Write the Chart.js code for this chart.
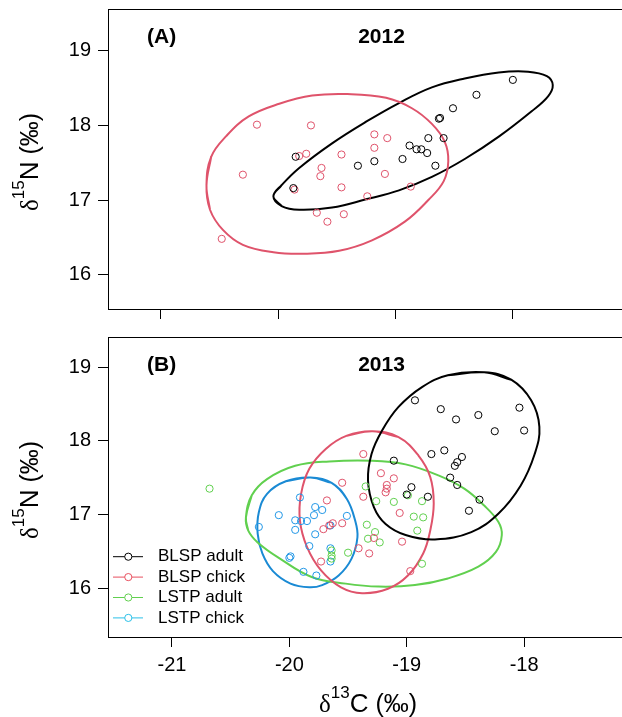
<!DOCTYPE html>
<html>
<head>
<meta charset="utf-8">
<script src="https://cdn.jsdelivr.net/npm/chart.js@4.4.0/dist/chart.umd.min.js"></script>
<style>
  html, body { margin: 0; padding: 0; background: #fff; overflow: hidden; width: 622px; height: 717px; }
  .panel { position: absolute; left: 0; }
  #wrapA { top: 0; }
  #wrapB { top: 330px; }
</style>
</head>
<body>
<div class="panel" id="wrapA"><canvas id="chartA" width="660" height="330"></canvas></div>
<div class="panel" id="wrapB"><canvas id="chartB" width="660" height="387"></canvas></div>
<script>
// axis ticks
const xTicks = [-21, -20, -19, -18];
const yTicks = [16, 17, 18, 19];

const groupLabels = ['BLSP adult', 'BLSP chick', 'LSTP adult', 'LSTP chick'];
const groupColors = ['#000000', '#DF536B', '#61D04F', '#2297E6'];
const legendColors = ['#000000', '#E8505F', '#61D04F', '#2BC0E8'];

// 2012 samples
const blspAdult2012X = [-19.85, -19.87, -19.32, -19.18, -18.94, -18.88, -18.82, -18.78, -18.73, -18.72, -18.66, -18.59, -18.63, -18.62, -18.51, -18.31, -18.00];
const blspAdult2012Y = [17.58, 17.16, 17.46, 17.52, 17.55, 17.73, 17.68, 17.68, 17.63, 17.83, 17.46, 17.83, 18.09, 18.10, 18.23, 18.41, 18.61];
const blspChick2012X = [-20.18, -19.72, -20.30, -20.48, -19.82, -19.76, -19.86, -19.63, -19.64, -19.46, -19.46, -19.67, -19.58, -19.44, -19.18, -19.18, -19.07, -19.09, -19.24, -18.87];
const blspChick2012Y = [18.01, 18.00, 17.34, 16.48, 17.59, 17.62, 17.14, 17.43, 17.32, 17.61, 17.17, 16.83, 16.71, 16.81, 17.88, 17.70, 17.83, 17.35, 17.05, 17.18];

// 2012 ellipse outlines
const ellAdult2012X = [-20.04, -19.97, -19.82, -19.54, -19.25, -18.97, -18.69, -18.41, -18.12, -17.84, -17.70, -17.66, -17.71, -17.87, -18.12, -18.41, -18.69, -18.97, -19.25, -19.54, -19.82, -19.97];
const ellAdult2012Y = [17.05, 16.92, 16.87, 16.90, 17.01, 17.13, 17.31, 17.55, 17.85, 18.19, 18.39, 18.54, 18.66, 18.72, 18.71, 18.63, 18.51, 18.30, 18.05, 17.76, 17.43, 17.20];
const ellChick2012X = [-20.61, -20.58, -20.47, -20.30, -20.04, -19.78, -19.48, -19.20, -18.92, -18.72, -18.59, -18.55, -18.58, -18.69, -18.86, -19.08, -19.41, -19.71, -19.99, -20.25, -20.44, -20.57];
const ellChick2012Y = [17.20, 16.87, 16.60, 16.40, 16.30, 16.28, 16.32, 16.46, 16.71, 17.00, 17.25, 17.52, 17.78, 18.02, 18.23, 18.37, 18.42, 18.40, 18.29, 18.12, 17.86, 17.58];

// 2013 samples
const blspAdult2013X = [-18.93, -18.71, -18.58, -18.39, -18.04, -18.25, -18.00, -18.79, -18.68, -18.53, -18.57, -18.59, -19.11, -18.63, -18.57, -18.96, -19.00, -18.82, -18.38, -18.47];
const blspAdult2013Y = [18.55, 18.43, 18.29, 18.35, 18.45, 18.13, 18.14, 17.82, 17.87, 17.78, 17.71, 17.66, 17.73, 17.50, 17.40, 17.37, 17.27, 17.24, 17.20, 17.05];
const blspChick2013X = [-19.37, -19.22, -19.11, -19.17, -19.17, -19.18, -19.55, -19.37, -19.68, -19.06, -19.55, -19.63, -19.66, -19.71, -19.28, -19.04, -19.41, -19.32, -19.73, -18.97];
const blspChick2013Y = [17.82, 17.56, 17.49, 17.40, 17.35, 17.30, 17.43, 17.24, 17.19, 17.02, 16.88, 16.88, 16.85, 16.80, 16.68, 16.63, 16.54, 16.47, 16.36, 16.23];
const lstpAdult2013X = [-20.68, -19.35, -19.26, -19.11, -18.99, -18.87, -18.94, -18.86, -18.91, -19.34, -19.27, -19.33, -19.23, -19.50, -18.87, -19.64, -19.64, -19.64];
const lstpAdult2013Y = [17.35, 17.38, 17.18, 17.17, 17.26, 17.18, 16.97, 16.96, 16.78, 16.86, 16.76, 16.67, 16.62, 16.48, 16.33, 16.51, 16.44, 16.40];
const lstpChick2013X = [-19.91, -20.09, -20.26, -19.95, -19.90, -19.85, -19.95, -19.78, -19.72, -19.79, -19.51, -19.65, -19.78, -19.83, -19.65, -19.65, -19.99, -20.00, -19.88, -19.77];
const lstpChick2013Y = [17.23, 16.99, 16.83, 16.92, 16.91, 16.91, 16.79, 17.10, 17.06, 16.99, 16.98, 16.85, 16.73, 16.57, 16.54, 16.36, 16.43, 16.41, 16.22, 16.17];

// 2013 ellipse outlines
const ellBlspAdult2013X = [-18.34, -18.11, -17.94, -17.87, -17.91, -18.03, -18.22, -18.45, -18.76, -19.01, -19.18, -19.28, -19.33, -19.30, -19.21, -19.07, -18.87, -18.65];
const ellBlspAdult2013Y = [18.93, 18.83, 18.55, 18.19, 17.82, 17.39, 17.01, 16.76, 16.66, 16.72, 16.87, 17.10, 17.46, 17.82, 18.14, 18.46, 18.73, 18.89];
const ellBlspChick2013X = [-19.29, -19.07, -18.90, -18.80, -18.77, -18.80, -18.86, -18.99, -19.16, -19.38, -19.56, -19.73, -19.85, -19.91, -19.90, -19.83, -19.69, -19.51];
const ellBlspChick2013Y = [18.13, 18.05, 17.80, 17.51, 17.15, 16.78, 16.47, 16.17, 15.99, 15.93, 16.01, 16.24, 16.56, 16.92, 17.28, 17.62, 17.89, 18.07];
const ellLstpAdult2013X = [-20.37, -20.32, -20.19, -19.95, -19.66, -19.30, -19.01, -18.73, -18.51, -18.34, -18.22, -18.19, -18.24, -18.39, -18.65, -18.93, -19.24, -19.52, -19.81, -20.09, -20.27, -20.35];
const ellLstpAdult2013Y = [16.96, 17.26, 17.48, 17.66, 17.72, 17.73, 17.68, 17.53, 17.35, 17.12, 16.90, 16.72, 16.49, 16.29, 16.13, 16.04, 16.02, 16.06, 16.15, 16.41, 16.62, 16.78];
const ellLstpChick2013X = [-19.82, -19.64, -19.51, -19.44, -19.42, -19.47, -19.58, -19.72, -19.83, -19.99, -20.14, -20.23, -20.27, -20.26, -20.19, -20.03];
const ellLstpChick2013Y = [17.50, 17.43, 17.21, 16.92, 16.69, 16.40, 16.17, 16.04, 16.01, 16.06, 16.23, 16.47, 16.74, 17.03, 17.28, 17.45];

function toPoints(xs, ys) {
  return xs.map((x, i) => ({x: x, y: ys[i]}));
}

// closed outline: wrap one point on each side so the spline joins smoothly
function toLoop(xs, ys) {
  const p = toPoints(xs, ys);
  return [p[p.length - 1], ...p, p[0], p[1]];
}

function pointSet(label, xs, ys, color) {
  return {
    label: label,
    data: toPoints(xs, ys),
    showLine: false,
    pointStyle: 'circle',
    pointRadius: 3.6,
    pointBorderWidth: 1,
    borderColor: color,
    backgroundColor: 'rgba(0,0,0,0)',
  };
}

function ellipseSet(xs, ys, color) {
  return {
    data: toLoop(xs, ys),
    showLine: true,
    pointRadius: 0,
    borderWidth: 2,
    borderColor: color,
    tension: 0.4,
    fill: false,
  };
}

const SANS = '"Liberation Sans", Arial, sans-serif';
const SERIF = '"Liberation Serif", "Times New Roman", serif';

// draws a piecewise label: [{text, font, rise}]
function drawPieces(ctx, pieces) {
  let w = 0;
  pieces.forEach(p => { ctx.font = p.font; w += ctx.measureText(p.text).width; });
  let x = -w / 2;
  pieces.forEach(p => {
    ctx.font = p.font;
    ctx.fillText(p.text, x, -(p.rise || 0));
    x += ctx.measureText(p.text).width;
  });
}

function isoPieces(num, letter) {
  return [
    {text: 'δ', font: '25px ' + SERIF},
    {text: num, font: '17px ' + SANS, rise: 14},
    {text: letter, font: '26px ' + SANS},
    {text: ' (‰)', font: '25px ' + SANS},
  ];
}

const framePlugin = {
  id: 'frame',
  afterDraw(chart, args, opts) {
    const {ctx, chartArea: a} = chart;
    ctx.save();
    ctx.strokeStyle = '#000';
    ctx.lineWidth = 1;
    ctx.strokeRect(Math.round(a.left) + 0.5, Math.round(a.top) + 0.5, Math.round(a.right - a.left), Math.round(a.bottom - a.top));

    ctx.fillStyle = '#000';
    ctx.textBaseline = 'middle';
    ctx.font = 'bold 21px ' + SANS;
    ctx.textAlign = 'left';
    ctx.fillText(opts.tag, 147, opts.tagY);
    ctx.textAlign = 'center';
    ctx.fillText(opts.year, (a.left + a.right) / 2, opts.tagY);

    // y axis title
    ctx.textBaseline = 'alphabetic';
    ctx.textAlign = 'left';
    ctx.save();
    ctx.translate(38, (a.top + a.bottom) / 2 + 3);
    ctx.rotate(-Math.PI / 2);
    drawPieces(ctx, isoPieces('15', 'N'));
    ctx.restore();

    if (opts.xTitle) {
      ctx.save();
      ctx.translate(368, chart.height - 5);
      drawPieces(ctx, isoPieces('13', 'C'));
      ctx.restore();
    }

    if (opts.legend) {
      ctx.font = '17px ' + SANS;
      ctx.textBaseline = 'middle';
      groupLabels.forEach((lab, i) => {
        const y = 226.7 + i * 20.4;
        ctx.strokeStyle = legendColors[i];
        ctx.lineWidth = 1;
        ctx.beginPath();
        ctx.moveTo(113, y);
        ctx.lineTo(143, y);
        ctx.stroke();
        ctx.beginPath();
        ctx.fillStyle = '#fff';
        ctx.arc(128.3, y, 3.6, 0, Math.PI * 2);
        ctx.fill();
        ctx.stroke();
        ctx.fillStyle = '#000';
        ctx.fillText(lab, 158, y);
      });
    }
    ctx.restore();
  },
};

function makeChart(canvasId, datasets, cfg) {
  return new Chart(document.getElementById(canvasId), {
    type: 'scatter',
    data: {datasets: datasets},
    options: {
      responsive: false,
      animation: false,
      events: [],
      layout: {padding: {top: cfg.padTop, right: 2, left: 0, bottom: 0}},
      plugins: {
        legend: {display: false},
        tooltip: {enabled: false},
        frame: cfg.frame,
      },
      scales: {
        x: {
          type: 'linear',
          min: cfg.xMin,
          max: cfg.xMax,
          afterBuildTicks: (s) => { s.ticks = xTicks.map(v => ({value: v})); },
          afterFit: (s) => { s.height = cfg.xAxisHeight; s.paddingLeft = 0; s.paddingRight = 0; },
          border: {display: false},
          grid: {drawOnChartArea: false, drawTicks: true, tickLength: 10, color: '#000', lineWidth: 1},
          ticks: {
            display: cfg.xLabels,
            color: '#000',
            padding: 6,
            maxRotation: 0,
            font: {family: SANS, size: 20},
          },
        },
        y: {
          type: 'linear',
          min: cfg.yMin,
          max: cfg.yMax,
          afterBuildTicks: (s) => { s.ticks = yTicks.map(v => ({value: v})); },
          afterFit: (s) => { s.width = 108; s.paddingTop = 0; s.paddingBottom = 0; },
          border: {display: false},
          grid: {drawOnChartArea: false, drawTicks: true, tickLength: 10, color: '#000', lineWidth: 1},
          ticks: {
            color: '#000',
            padding: 7,
            font: {family: SANS, size: 20},
          },
        },
      },
    },
    plugins: [framePlugin],
  });
}

makeChart('chartA', [
  pointSet(groupLabels[0], blspAdult2012X, blspAdult2012Y, groupColors[0]),
  pointSet(groupLabels[1], blspChick2012X, blspChick2012Y, groupColors[1]),
  ellipseSet(ellChick2012X, ellChick2012Y, groupColors[1]),
  ellipseSet(ellAdult2012X, ellAdult2012Y, groupColors[0]),
], {
  padTop: 9, xMin: -21.449, xMax: -16.789, yMin: 15.54, yMax: 19.56,
  xAxisHeight: 21, xLabels: false,
  frame: {tag: '(A)', year: '2012', tagY: 37.5, xTitle: false, legend: false},
});

makeChart('chartB', [
  pointSet(groupLabels[0], blspAdult2013X, blspAdult2013Y, groupColors[0]),
  pointSet(groupLabels[1], blspChick2013X, blspChick2013Y, groupColors[1]),
  pointSet(groupLabels[2], lstpAdult2013X, lstpAdult2013Y, groupColors[2]),
  pointSet(groupLabels[3], lstpChick2013X, lstpChick2013Y, groupColors[3]),
  ellipseSet(ellBlspAdult2013X, ellBlspAdult2013Y, groupColors[0]),
  ellipseSet(ellBlspChick2013X, ellBlspChick2013Y, groupColors[1]),
  ellipseSet(ellLstpAdult2013X, ellLstpAdult2013Y, groupColors[2]),
  ellipseSet(ellLstpChick2013X, ellLstpChick2013Y, '#1A8AD4'),
], {
  padTop: 7, xMin: -21.545, xMax: -16.885, yMin: 15.335, yMax: 19.41,
  xAxisHeight: 80, xLabels: true,
  frame: {tag: '(B)', year: '2013', tagY: 35, xTitle: true, legend: true},
});
</script>
</body>
</html>
